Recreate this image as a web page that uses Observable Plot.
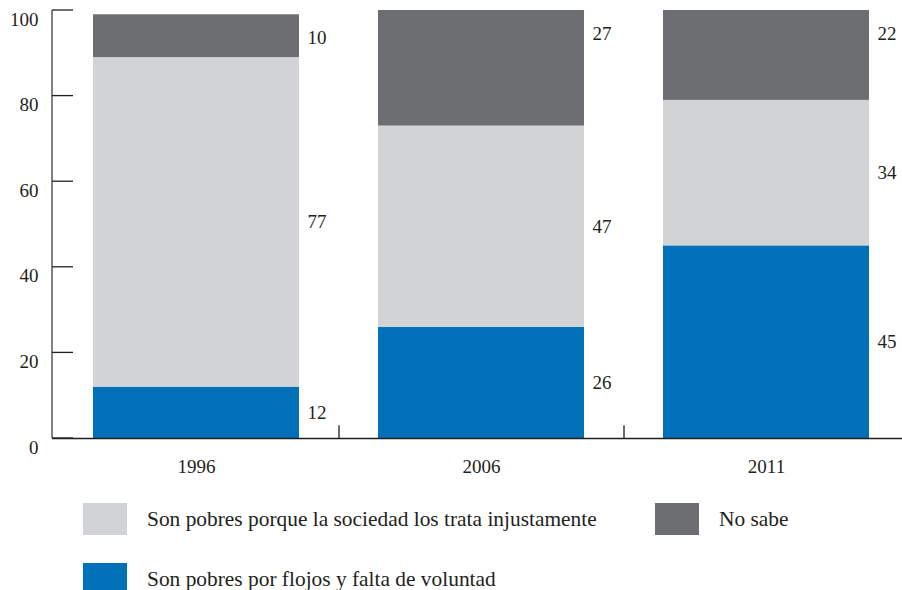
<!DOCTYPE html>
<html>
<head>
<meta charset="utf-8">
<script src="https://cdn.jsdelivr.net/npm/d3@7"></script>
<script src="https://cdn.jsdelivr.net/npm/@observablehq/plot@0.6"></script>
<style>
  html, body { margin: 0; padding: 0; background: #fff; }
  #wrap { width: 902px; height: 590px; position: relative; overflow: hidden; font-family: "Liberation Serif", "DejaVu Serif", serif; color: #231f20; }
  #legend { position: relative; width: 902px; height: 105px; }
  .sw { position: absolute; width: 44px; height: 32px; }
  .lt { position: absolute; font-size: 21.4px; line-height: 32px; white-space: nowrap; }
</style>
</head>
<body>
<div id="wrap">
  <div id="chart"></div>
  <div id="legend"></div>
</div>
<script>
const years = ["1996", "2006", "2011"];
const flojos = [12, 26, 45];     // Son pobres por flojos y falta de voluntad
const injusta = [77, 47, 34];    // Son pobres porque la sociedad los trata injustamente
const noSabe = [10, 27, 22];     // No sabe
const seriesNames = [
  "Son pobres por flojos y falta de voluntad",
  "Son pobres porque la sociedad los trata injustamente",
  "No sabe"
];
const seriesColors = ["#0071b9", "#d1d3d4", "#6d6e71"];
const yTicks = [0, 20, 40, 60, 80, 100];

const W = 902, H = 485, ML = 52, MT = 10, MB = 47;
const seriesValues = [flojos, injusta, noSabe];

// stacked rows
const rows = [];
years.forEach((yr, i) => {
  let base = 0;
  seriesValues.forEach((vals, s) => {
    const v = vals[i];
    const top = base + v;
    rows.push({year: yr, series: seriesNames[s], s, value: v, y1: base, y2: top,
      isTop: s === seriesValues.length - 1,
      labelY: s === seriesValues.length - 1 ? Math.min(top, 100) : (base + top) / 2});
    base = top;
  });
});

const x0 = 53, x1 = 908;
const step = (x1 - x0) / years.length;
const bw = 206;
const pInner = 1 - bw / step;

// left axis line and inward y ticks, placed through the y scale
function yAxisLines(index, scales, values, dimensions) {
  const g = d3.create("svg:g").attr("fill", "none");
  const left = dimensions.marginLeft;
  g.append("line")
    .attr("x1", left).attr("x2", left)
    .attr("y1", scales.y(0)).attr("y2", scales.y(100))
    .attr("stroke", "#58595b").attr("stroke-width", 1.5);
  for (const t of yTicks) {
    g.append("line")
      .attr("x1", left).attr("x2", left + 21)
      .attr("y1", scales.y(t)).attr("y2", scales.y(t))
      .attr("stroke", "#231f20")
      .attr("stroke-width", 1.3);
  }
  return g.node();
}

const plot = Plot.plot({
  width: W, height: H,
  marginLeft: ML, marginRight: 0, marginTop: MT, marginBottom: MB,
  style: {fontFamily: '"Liberation Serif", "DejaVu Serif", serif', fontSize: "19px", color: "#231f20", background: "#fff", overflow: "visible"},
  x: {domain: years, range: [x0, x1], paddingInner: pInner, paddingOuter: pInner / 2, label: null},
  y: {domain: [0, 100], label: null},
  color: {domain: seriesNames, range: seriesColors},
  marks: [
    Plot.barY(rows, {x: "year", y1: "y1", y2: "y2", fill: "series", clip: true}),
    Plot.text(rows.filter(d => !d.isTop), {x: "year", y: "labelY", text: d => String(d.value), textAnchor: "start", dx: bw / 2 + 8, fill: "#231f20", fontSize: 19}),
    Plot.text(rows.filter(d => d.isTop), {x: "year", y: "labelY", text: d => String(d.value), textAnchor: "start", dx: bw / 2 + 8, dy: 23, fill: "#231f20", fontSize: 19}),
    // small upward ticks at band boundaries
    Plot.ruleX(years.slice(1), {x: d => d, y1: 0, y2: 3, dx: -step / 2, stroke: "#231f20", strokeWidth: 1.3}),
    Plot.ruleY([0], {stroke: "#231f20", strokeWidth: 1.6}),
    yAxisLines,
    Plot.axisY(yTicks, {tickSize: 0, tickPadding: 14, dy: 9, fontSize: 19, fill: "#231f20"}),
    Plot.axisX({tickSize: 0, tickPadding: 21, fontSize: 19, fill: "#231f20"})
  ]
});
document.getElementById("chart").appendChild(plot);

// legend
const legendItems = [
  {name: seriesNames[1], color: seriesColors[1], left: 83, top: 18},
  {name: seriesNames[2], color: seriesColors[2], left: 655, top: 18},
  {name: seriesNames[0], color: seriesColors[0], left: 83, top: 78}
];
const lg = document.getElementById("legend");
legendItems.forEach(it => {
  const sw = document.createElement("div");
  sw.className = "sw";
  sw.style.left = it.left + "px";
  sw.style.top = it.top + "px";
  sw.style.background = it.color;
  lg.appendChild(sw);
  const t = document.createElement("div");
  t.className = "lt";
  t.style.left = (it.left + 64) + "px";
  t.style.top = it.top + "px";
  t.textContent = it.name;
  lg.appendChild(t);
});
</script>
</body>
</html>
